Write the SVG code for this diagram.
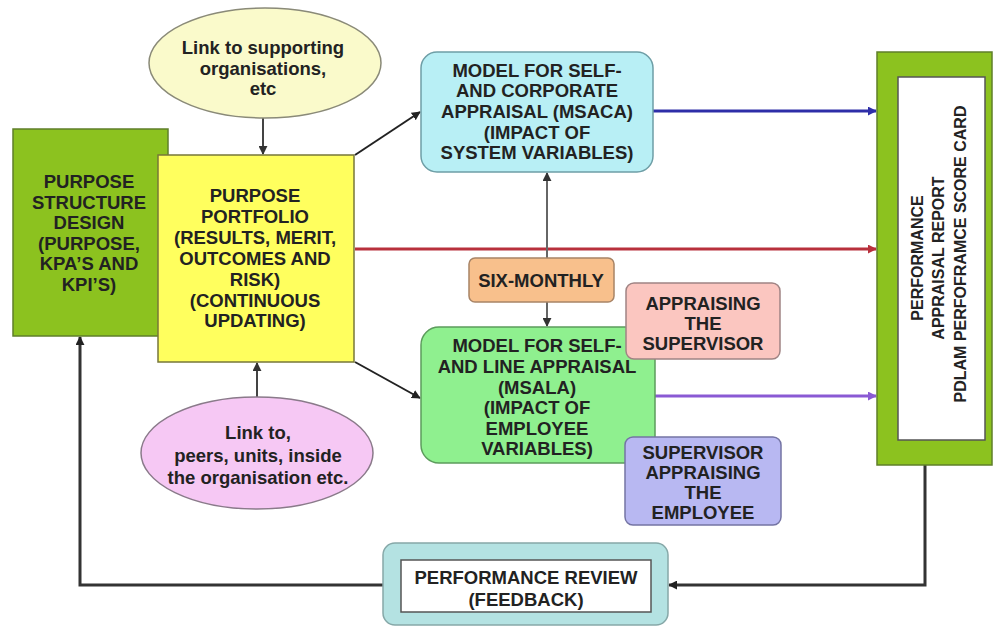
<svg xmlns="http://www.w3.org/2000/svg" width="993" height="627" viewBox="0 0 993 627">
<defs>
<style>
.t{font-family:"Liberation Sans",Arial,sans-serif;font-weight:bold;font-size:18.5px;fill:#222;text-anchor:middle}
.e{font-family:"Liberation Sans",Arial,sans-serif;font-weight:bold;font-size:18.5px;fill:#222;text-anchor:middle}
.r{font-family:"Liberation Sans",Arial,sans-serif;font-weight:bold;font-size:16px;fill:#222;text-anchor:middle}
.c{fill:none;stroke-width:2}
</style>
<marker id="ak" viewBox="0 0 10 10" refX="9" refY="5" markerWidth="9" markerHeight="9" markerUnits="userSpaceOnUse" orient="auto"><path d="M0,0 L10,5 L0,10 z" fill="#222"/></marker>
<marker id="ag" viewBox="0 0 10 10" refX="9" refY="5" markerWidth="9" markerHeight="9" markerUnits="userSpaceOnUse" orient="auto"><path d="M0,0 L10,5 L0,10 z" fill="#333"/></marker>
<marker id="ab" viewBox="0 0 10 10" refX="9" refY="5" markerWidth="9" markerHeight="9" markerUnits="userSpaceOnUse" orient="auto"><path d="M0,0 L10,5 L0,10 z" fill="#2e2ea8"/></marker>
<marker id="ar" viewBox="0 0 10 10" refX="9" refY="5" markerWidth="9" markerHeight="9" markerUnits="userSpaceOnUse" orient="auto"><path d="M0,0 L10,5 L0,10 z" fill="#b8303c"/></marker>
<marker id="ap" viewBox="0 0 10 10" refX="9" refY="5" markerWidth="9" markerHeight="9" markerUnits="userSpaceOnUse" orient="auto"><path d="M0,0 L10,5 L0,10 z" fill="#8a5ad4"/></marker>
</defs>
<rect width="993" height="627" fill="#fff"/>

<g id="connectors">
<line class="c" x1="263" y1="118" x2="263" y2="154" stroke="#444" marker-end="url(#ag)"/>
<line class="c" x1="257" y1="398" x2="257" y2="363" stroke="#444" marker-end="url(#ag)"/>
<line class="c" x1="355" y1="155" x2="420" y2="112" stroke="#222" marker-end="url(#ak)"/>
<line class="c" x1="355" y1="362" x2="420" y2="398" stroke="#222" marker-end="url(#ak)"/>
<line x1="653" y1="111" x2="876" y2="111" stroke="#2e2ea8" stroke-width="3" marker-end="url(#ab)"/>
<line x1="355" y1="249" x2="876" y2="249" stroke="#b8303c" stroke-width="3" marker-end="url(#ar)"/>
<line x1="655" y1="396" x2="876" y2="396" stroke="#8a5ad4" stroke-width="3" marker-end="url(#ap)"/>
<line class="c" x1="547" y1="258" x2="547" y2="173" stroke="#666" stroke-width="3" marker-end="url(#ag)"/>
<line class="c" x1="547" y1="302" x2="547" y2="326" stroke="#666" stroke-width="3" marker-end="url(#ag)"/>
<polyline fill="none" stroke="#333" stroke-width="3" points="925,465 925,585 669,585" marker-end="url(#ak)"/>
<polyline fill="none" stroke="#333" stroke-width="3" points="383,585 80,585 80,337" marker-end="url(#ak)"/>
</g>

<g id="purpose-structure">
<rect x="13" y="129" width="155" height="207" fill="#8cc21f" stroke="#5f7f2a" stroke-width="1.5"/>
<text class="t" x="89" y="188">PURPOSE</text>
<text class="t" x="89" y="208.5">STRUCTURE</text>
<text class="t" x="89" y="229">DESIGN</text>
<text class="t" x="89" y="249.5">(PURPOSE,</text>
<text class="t" x="89" y="270">KPA’S AND</text>
<text class="t" x="89" y="290.5">KPI’S)</text>
</g>

<g id="purpose-portfolio">
<rect x="158" y="155" width="196" height="207" fill="#ffff5e" stroke="#77773a" stroke-width="1.5"/>
<text class="t" x="255" y="201.5">PURPOSE</text>
<text class="t" x="255" y="222.5">PORTFOLIO</text>
<text class="t" x="255" y="243.5">(RESULTS, MERIT,</text>
<text class="t" x="255" y="264.5">OUTCOMES AND</text>
<text class="t" x="255" y="285.5">RISK)</text>
<text class="t" x="255" y="306.5">(CONTINUOUS</text>
<text class="t" x="255" y="327">UPDATING)</text>
</g>

<g id="link-supporting">
<ellipse cx="265" cy="63" rx="116" ry="55" fill="#fafacb" stroke="#8a8a78" stroke-width="1.5"/>
<text class="e" x="263" y="54">Link to supporting</text>
<text class="e" x="263" y="75">organisations,</text>
<text class="e" x="263" y="95">etc</text>
</g>

<g id="link-peers">
<ellipse cx="257" cy="453" rx="116" ry="56" fill="#f6c8f4" stroke="#8a7a8a" stroke-width="1.5"/>
<text class="e" x="258" y="439">Link to,</text>
<text class="e" x="258" y="462">peers, units, inside</text>
<text class="e" x="258" y="484">the organisation etc.</text>
</g>

<g id="msaca">
<rect x="421" y="52" width="232" height="120" rx="16" fill="#b8eff5" stroke="#6e9ea6" stroke-width="1.5"/>
<text class="t" x="537" y="77">MODEL FOR SELF-</text>
<text class="t" x="537" y="97">AND CORPORATE</text>
<text class="t" x="537" y="118">APPRAISAL (MSACA)</text>
<text class="t" x="537" y="139">(IMPACT OF</text>
<text class="t" x="537" y="159">SYSTEM VARIABLES)</text>
</g>

<g id="six-monthly">
<rect x="469" y="258" width="145" height="44" rx="6" fill="#f8c08c" stroke="#a88466" stroke-width="1.5"/>
<text class="t" x="541" y="287">SIX-MONTHLY</text>
</g>

<g id="msala">
<rect x="421" y="327" width="234" height="136" rx="18" fill="#8ff08f" stroke="#5c9c5c" stroke-width="1.5"/>
<text class="t" x="537" y="352">MODEL FOR SELF-</text>
<text class="t" x="537" y="373">AND LINE APPRAISAL</text>
<text class="t" x="537" y="393.5">(MSALA)</text>
<text class="t" x="537" y="414">(IMPACT OF</text>
<text class="t" x="537" y="434.5">EMPLOYEE</text>
<text class="t" x="537" y="455">VARIABLES)</text>
</g>

<g id="appraising-supervisor">
<rect x="626" y="283" width="154" height="76" rx="8" fill="#fbc6c0" stroke="#a08484" stroke-width="1.5"/>
<text class="t" x="703" y="310">APPRAISING</text>
<text class="t" x="703" y="330">THE</text>
<text class="t" x="703" y="350">SUPERVISOR</text>
</g>

<g id="supervisor-appraising">
<rect x="625" y="437" width="156" height="88" rx="8" fill="#b8b8f2" stroke="#7474a4" stroke-width="1.5"/>
<text class="t" x="703" y="459">SUPERVISOR</text>
<text class="t" x="703" y="479">APPRAISING</text>
<text class="t" x="703" y="499">THE</text>
<text class="t" x="703" y="519">EMPLOYEE</text>
</g>

<g id="report">
<rect x="877" y="52" width="115" height="413" fill="#8cc21f" stroke="#5f7f2a" stroke-width="1.5"/>
<rect x="898" y="77" width="87" height="363" fill="#fff" stroke="#555" stroke-width="1.5"/>
<text class="r" transform="translate(923,258) rotate(-90)">PERFORMANCE</text>
<text class="r" transform="translate(944,258) rotate(-90)">APPRAISAL REPORT</text>
<text class="r" transform="translate(966,254) rotate(-90)">PDLAM PERFOFRAMCE SCORE CARD</text>
</g>

<g id="review">
<rect x="383" y="543" width="285" height="82" rx="12" fill="#b4e2e2" stroke="#86a8a8" stroke-width="1.5"/>
<rect x="401" y="560" width="250" height="52" fill="#fff" stroke="#555" stroke-width="1.5"/>
<text class="t" x="526" y="584">PERFORMANCE REVIEW</text>
<text class="t" x="526" y="606">(FEEDBACK)</text>
</g>
</svg>
